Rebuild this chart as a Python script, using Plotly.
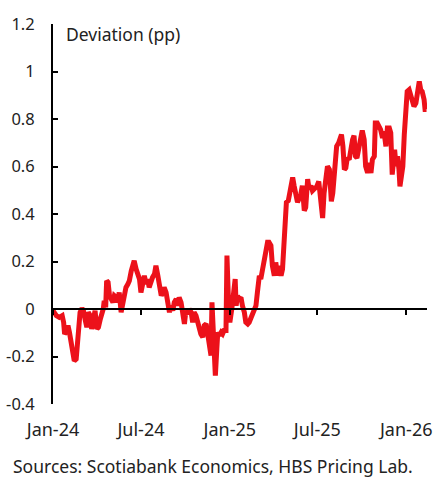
import pandas as pd
import plotly.graph_objects as go

# Days since 2024-01-01 and deviation (pp)
days = [0, 7, 13, 19, 22, 24, 27, 31, 34, 38, 41, 44, 48, 51, 53, 56, 60, 63, 67, 70,
        73, 77, 80, 84, 87, 91, 94, 98, 101, 104, 106, 109, 111, 114, 117, 120, 124, 127, 131, 134,
        137, 141, 144, 148, 151, 155, 158, 162, 165, 168, 172, 175, 179, 182, 186, 189, 193, 196, 199, 203,
        206, 210, 213, 217, 220, 224, 227, 230, 234, 237, 241, 244, 248, 251, 255, 258, 261, 265, 268, 272,
        275, 279, 282, 286, 289, 292, 296, 299, 303, 306, 310, 313, 317, 320, 323, 327, 329, 332, 334, 336,
        339, 341, 344, 348, 351, 354, 358, 360, 363, 366, 370, 373, 377, 379, 382, 385, 389, 392, 396, 399,
        403, 406, 410, 413, 416, 420, 423, 427, 430, 434, 437, 441, 444, 447, 451, 454, 458, 461, 465, 468,
        472, 475, 478, 481, 483, 487, 490, 492, 496, 499, 503, 506, 509, 513, 516, 520, 523, 527, 530, 534,
        537, 540, 546, 550, 553, 556, 558, 561, 565, 568, 572, 574, 576, 579, 582, 585, 587, 591, 594, 597,
        600, 603, 606, 609, 613, 616, 620, 623, 626, 629, 631, 634, 637, 640, 644, 647, 651, 654, 658, 661,
        665, 667, 671, 675, 678, 682, 685, 689, 692, 696, 699, 702, 704, 707, 710, 713, 716, 718, 721, 724,
        727, 729, 731, 733, 737, 740, 744, 747, 751, 754, 758, 761, 764, 768, 770, 773]
deviation = [-0.007, -0.028, -0.035, -0.028, -0.056, -0.105, -0.098, -0.070, -0.098, -0.140,
             -0.168, -0.218, -0.211, -0.126, -0.056, -0.014, 0.003, -0.007, -0.049, -0.077,
             -0.014, -0.028, -0.084, -0.021, -0.007, -0.084, -0.077, -0.042, -0.021, 0.000,
             0.035, 0.007, 0.119, 0.112, 0.056, 0.042, 0.028, 0.056, 0.049, 0.028,
             0.070, -0.014, 0.028, 0.056, 0.091, 0.105, 0.119, 0.161, 0.182, 0.203,
             0.168, 0.147, 0.126, 0.070, 0.112, 0.140, 0.105, 0.126, 0.091, 0.119,
             0.133, 0.147, 0.182, 0.140, 0.098, 0.056, 0.070, 0.091, 0.070, 0.028,
             -0.014, 0.014, -0.007, 0.028, 0.042, 0.014, 0.049, 0.028, -0.014, -0.063,
             -0.007, -0.021, 0.000, -0.014, -0.056, -0.014, -0.028, -0.056, -0.070, -0.105,
             -0.119, -0.070, -0.063, -0.112, -0.154, -0.196, 0.028, -0.070, -0.154, -0.281,
             -0.168, -0.098, -0.112, -0.098, -0.105, -0.091, -0.091, 0.225, 0.042, -0.056,
             0.000, 0.070, 0.126, 0.014, 0.056, 0.042, 0.049, 0.014, -0.014, -0.056,
             -0.063, -0.056, -0.035, -0.014, 0.000, 0.014, 0.070, 0.140, 0.126, 0.168,
             0.225, 0.267, 0.281, 0.281, 0.267, 0.182, 0.140, 0.196, 0.140, 0.182,
             0.140, 0.168, 0.281, 0.351, 0.449, 0.456, 0.491, 0.533, 0.554, 0.519,
             0.456, 0.449, 0.463, 0.484, 0.519, 0.414, 0.428, 0.547, 0.505, 0.519,
             0.498, 0.505, 0.516, 0.537, 0.460, 0.390, 0.383, 0.488, 0.587, 0.601,
             0.587, 0.460, 0.453, 0.488, 0.587, 0.615, 0.685, 0.699, 0.713, 0.734,
             0.685, 0.587, 0.594, 0.636, 0.629, 0.671, 0.713, 0.730, 0.643, 0.636,
             0.657, 0.692, 0.720, 0.752, 0.713, 0.601, 0.573, 0.615, 0.573, 0.629,
             0.643, 0.783, 0.783, 0.769, 0.755, 0.720, 0.748, 0.685, 0.762, 0.762,
             0.741, 0.566, 0.629, 0.671, 0.601, 0.643, 0.587, 0.516, 0.558, 0.601,
             0.734, 0.790, 0.867, 0.916, 0.923, 0.895, 0.867, 0.853, 0.867, 0.923,
             0.958, 0.923, 0.916, 0.881, 0.840, 0.840]

y_ticks = [-0.4, -0.2, 0, 0.2, 0.4, 0.6, 0.8, 1, 1.2]
y_tick_labels = ["-0.4", "-0.2", "0", "0.2", "0.4", "0.6", "0.8", "1", "1.2"]
x_start = "2024-01-01"
x_end = "2026-02-13"

dates = pd.to_datetime(x_start) + pd.to_timedelta(days, unit="D")

FONT = "Noto Sans"
RED = "#EC111A"
TXT = "#222222"

fig = go.Figure()
fig.add_trace(go.Scatter(x=dates, y=deviation, mode="lines",
                         line=dict(color=RED, width=5), showlegend=False,
                         hoverinfo="skip", xaxis="x", yaxis="y"))
# invisible copy on the labelled bottom axis so it is drawn
fig.add_trace(go.Scatter(x=dates, y=deviation, mode="lines", opacity=0,
                         line=dict(width=0), showlegend=False,
                         hoverinfo="skip", xaxis="x2", yaxis="y"))

fig.update_layout(
    width=435, height=478,
    margin=dict(l=53, r=8, t=24, b=74, autoexpand=False),
    paper_bgcolor="white", plot_bgcolor="white",
    font=dict(family=FONT, size=17, color=TXT),
    xaxis=dict(range=[x_start, x_end], anchor="free", position=0.25,
               showline=True, linecolor="black", linewidth=2,
               ticks="outside", ticklen=5, tickwidth=2, tickcolor="black",
               tick0=x_start, dtick="M6", showticklabels=False,
               showgrid=False, zeroline=False, automargin=False),
    xaxis2=dict(range=[x_start, x_end], overlaying="x", anchor="y", side="bottom",
                showline=False, ticks="", tick0=x_start, dtick="M6",
                tickformat="%b-%y", ticklabelstandoff=13,
                tickfont=dict(family=FONT, size=18, color=TXT),
                showgrid=False, zeroline=False, automargin=False),
    yaxis=dict(range=[-0.4, 1.2], tickvals=y_ticks, ticktext=y_tick_labels,
               showline=True, linecolor="black", linewidth=2,
               ticks="inside", ticklen=5, tickwidth=2, tickcolor="black",
               ticklabelstandoff=13, showgrid=False, zeroline=False, automargin=False,
               tickfont=dict(family=FONT, size=16.5, color=TXT)),
    annotations=[
        dict(text="Deviation (pp)", xref="paper", yref="paper", x=0.03, y=0.975,
             xanchor="left", yanchor="middle", showarrow=False,
             font=dict(family=FONT, size=17.5, color=TXT)),
        dict(text="Sources: Scotiabank Economics, HBS Pricing Lab.", xref="paper", yref="paper",
             x=-0.113, y=-0.163, xanchor="left", yanchor="middle", showarrow=False,
             font=dict(family=FONT, size=17.5, color=TXT)),
    ],
)

fig.write_html("out.html", config={"displayModeBar": False},
               post_script="document.body.style.margin='0';")
